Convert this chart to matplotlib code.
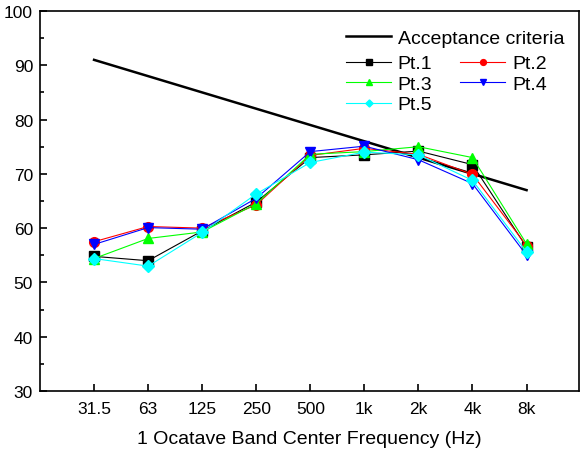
import matplotlib.pyplot as plt
import numpy as np
from matplotlib.ticker import MultipleLocator

plt.rcParams['font.family'] = ['Liberation Sans', 'DejaVu Sans']

bands = ["31.5", "63", "125", "250", "500", "1k", "2k", "4k", "8k"]
criteria = [91, 88, 85, 82, 79, 76, 73, 70, 67]
pt1 = [54.8, 54.0, 59.5, 64.8, 73.0, 73.5, 74.2, 71.7, 56.5]
pt2 = [57.5, 60.3, 60.0, 64.3, 73.4, 74.7, 73.6, 69.9, 56.8]
pt3 = [54.4, 58.1, 59.3, 64.5, 73.6, 74.1, 75.0, 73.0, 57.1]
pt4 = [57.0, 60.1, 59.8, 65.5, 74.1, 75.1, 72.6, 68.2, 55.0]
pt5 = [54.4, 53.0, 59.2, 66.3, 72.1, 74.0, 73.5, 68.8, 55.6]

x = np.arange(len(bands))

fig = plt.figure(figsize=(5.8, 4.52), dpi=100)
ax = fig.add_axes([40 / 580, 60 / 452, 539 / 580, 380 / 452])

crit, = ax.plot(x, criteria, color="black", lw=1.8, label="Acceptance criteria")
series = [
    (pt1, "black", "s", "Pt.1"),
    (pt2, "red", "o", "Pt.2"),
    (pt3, "#00ff00", "^", "Pt.3"),
    (pt4, "blue", "v", "Pt.4"),
    (pt5, "cyan", "D", "Pt.5"),
]
handles = {}
for vals, c, m, name in series:
    ms = 6 if m == "D" else 7
    h, = ax.plot(x, vals, color=c, marker=m, ms=ms, lw=0.8, label=name)
    handles[name] = h

ax.set_xlim(-1, 8.97)
ax.set_ylim(30, 100)
ax.set_xticks(x)
ax.set_xticklabels(bands)
ax.yaxis.set_major_locator(MultipleLocator(10))
ax.yaxis.set_minor_locator(MultipleLocator(5))
ax.tick_params(direction="in", labelsize=12.5, width=1.2)
ax.tick_params(axis="y", which="major", length=5)
ax.tick_params(axis="y", which="minor", length=3, width=1.2, direction="in")
ax.tick_params(axis="x", length=5, pad=7)
ax.tick_params(axis="y", pad=5)
for s in ax.spines.values():
    s.set_linewidth(1.2)
ax.set_xlabel("1 Ocatave Band Center Frequency (Hz)", fontsize=14, labelpad=10)

leg1 = ax.legend(handles=[crit], loc="upper left", bbox_to_anchor=(0.568, 0.951),
                 frameon=False, fontsize=14, handlelength=2.3, handletextpad=0.35,
                 borderaxespad=0, borderpad=0)
ax.add_artist(leg1)
order = ["Pt.1", "Pt.3", "Pt.5", "Pt.2", "Pt.4"]
ax.legend(handles=[handles[n] for n in order], loc="upper left",
          bbox_to_anchor=(0.568, 0.885), ncol=2, frameon=False, fontsize=14,
          handlelength=2.3, handletextpad=0.35, columnspacing=1.45,
          labelspacing=0.15, markerscale=0.6, borderaxespad=0, borderpad=0)

fig.savefig("out.png", dpi=100)
